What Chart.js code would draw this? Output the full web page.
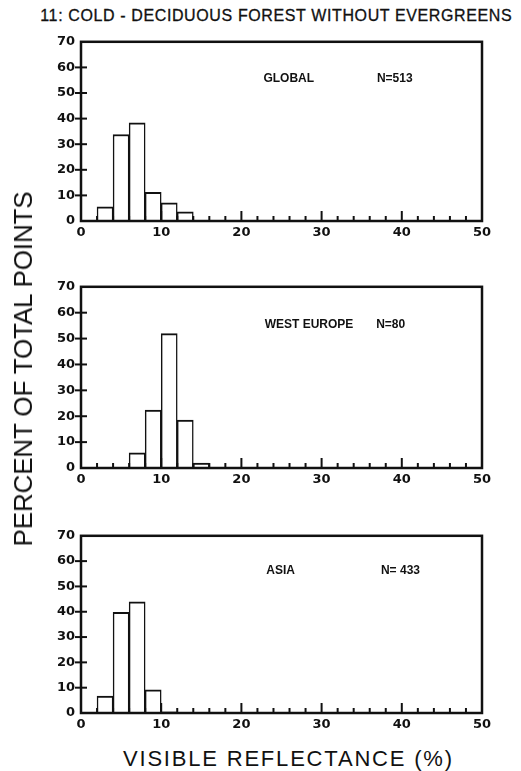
<!DOCTYPE html>
<html>
<head>
<meta charset="utf-8">
<script src="https://cdn.jsdelivr.net/npm/chart.js@4.4.1/dist/chart.umd.min.js"></script>
<style>
  html, body { margin: 0; padding: 0; background: #fff; }
  body { width: 521px; height: 771px; position: relative; overflow: hidden;
         font-family: 'Liberation Sans', Arial, sans-serif; color: #111; }
  .panel { position: absolute; left: 0; width: 521px; }
  .label { position: absolute; white-space: nowrap; line-height: 1; }
</style>
</head>
<body>
<div class="panel" style="top:28px;height:217px"><canvas id="globalChart" width="521" height="217"></canvas></div>
<div class="panel" style="top:273px;height:219px"><canvas id="westEuropeChart" width="521" height="219"></canvas></div>
<div class="panel" style="top:522px;height:215px"><canvas id="asiaChart" width="521" height="215"></canvas></div>

<script>
// Reflectance classes are 2% wide; each entry is the lower edge of a class
const binStarts = [2, 4, 6, 8, 10, 12, 14];

// Percent of total points in each class (null = empty class)
const globalPct = [5.5, 33.8, 38.3, 11.2, 7.1, 3.6, null];
const westEuropePct = [null, null, 5.9, 22.4, 51.9, 18.5, 1.9];
const asiaPct = [6.7, 39.8, 43.9, 9.2, 0.5, null, null];

const yTicks = [0, 10, 20, 30, 40, 50, 60, 70];
const xTicks = [0, 10, 20, 30, 40, 50];

const ink = '#111';
const tickFont = { family: "'DejaVu Sans'", size: 13, weight: 'bold' };

// Box around the plot, tick marks and the region / sample-size caption
const frameTicks = {
    id: 'frameTicks',
    afterDatasetsDraw(chart, args, opts) {
        const { ctx, chartArea: a, scales: { x, y } } = chart;
        ctx.save();
        ctx.strokeStyle = ink;
        ctx.lineCap = 'butt';

        const line = (x1, y1, x2, y2) => {
            ctx.beginPath();
            ctx.moveTo(x1, y1);
            ctx.lineTo(x2, y2);
            ctx.stroke();
        };

        // y ticks straddle the left edge
        ctx.lineWidth = 2;
        yTicks.slice(1, -1).forEach(v => {
            const py = y.getPixelForValue(v);
            line(a.left - 6, py, a.left + 6, py);
        });

        // x ticks point up into the plot, longer at the labelled values
        for (let v = 2; v < 50; v += 2) {
            const px = x.getPixelForValue(v);
            const len = v % 10 === 0 ? 10 : 5;
            line(px, a.bottom, px, a.bottom - len);
        }

        ctx.lineWidth = 2.5;
        ctx.strokeRect(a.left, a.top, a.right - a.left, a.bottom - a.top);

        ctx.fillStyle = ink;
        ctx.font = "bold 12px 'Liberation Sans'";
        ctx.textBaseline = 'middle';
        ctx.textAlign = 'left';
        const ty = y.getPixelForValue(opts.textY);
        ctx.fillText(opts.region, x.getPixelForValue(opts.regionX), ty);
        ctx.fillText(opts.count, x.getPixelForValue(opts.countX), ty);
        ctx.restore();
    }
};

function makeChart(id, values, caption) {
    const ctx = document.getElementById(id).getContext('2d');
    return new Chart(ctx, {
        type: 'bar',
        data: {
            datasets: [{
                data: binStarts.map((b, i) => ({ x: b + 1, y: values[i] })),
                backgroundColor: '#fff',
                borderColor: ink,
                borderWidth: { top: 2, left: 1.5, right: 1.5, bottom: 0 },
                barPercentage: 1,
                categoryPercentage: 1,
                grouped: false
            }]
        },
        options: {
            responsive: false,
            animation: false,
            devicePixelRatio: 1,
            layout: { padding: { top: 10, right: 39, left: 0, bottom: 0 } },
            scales: {
                x: {
                    type: 'linear',
                    min: 0,
                    max: 50,
                    offset: false,
                    grid: { display: false, drawTicks: false },
                    border: { display: false },
                    afterBuildTicks: s => { s.ticks = xTicks.map(v => ({ value: v })); },
                    ticks: { padding: 4, color: ink, font: tickFont, maxRotation: 0 },
                    afterFit: s => { s.height = 24; }
                },
                y: {
                    min: 0,
                    max: 70,
                    grid: { display: false, drawTicks: false },
                    border: { display: false },
                    afterBuildTicks: s => { s.ticks = yTicks.map(v => ({ value: v })); },
                    ticks: { padding: 6, color: ink, font: tickFont },
                    afterFit: s => { s.width = 81; }
                }
            },
            plugins: {
                legend: { display: false },
                tooltip: { enabled: false },
                frameTicks: caption
            }
        },
        plugins: [frameTicks]
    });
}

makeChart('globalChart', globalPct,
    { region: 'GLOBAL', count: 'N=513', regionX: 22.75, countX: 36.9, textY: 55.5 });
makeChart('westEuropeChart', westEuropePct,
    { region: 'WEST EUROPE', count: 'N=80', regionX: 22.9, countX: 36.8, textY: 55.5 });
makeChart('asiaChart', asiaPct,
    { region: 'ASIA', count: 'N= 433', regionX: 23.1, countX: 37.4, textY: 56.2 });

// Page title and shared axis titles, spread to their full width
const measure = document.createElement('canvas').getContext('2d');
function placeText(text, cx, cy, size, span, rotate, stroke) {
    measure.font = size + "px 'Liberation Sans'";
    const spacing = (span - measure.measureText(text).width) / (text.length - 1);
    const el = document.createElement('div');
    el.className = 'label';
    el.textContent = text;
    el.style.cssText = 'font-size:' + size + 'px;letter-spacing:' + spacing + 'px;padding-left:' + spacing +
        'px;left:' + cx + 'px;top:' + cy + 'px;transform:translate(-50%,-50%)' + (rotate ? ' rotate(-90deg)' : '') +
        (stroke ? ';-webkit-text-stroke:' + stroke + 'px ' + ink : '');
    document.body.appendChild(el);
}

placeText('11: COLD - DECIDUOUS FOREST WITHOUT EVERGREENS', 276, 16, 16, 472, false, 0.3);
placeText('PERCENT OF TOTAL POINTS', 23, 368.5, 26, 357, true);
placeText('VISIBLE REFLECTANCE (%)', 287.5, 759, 22, 329, false);
</script>
</body>
</html>
